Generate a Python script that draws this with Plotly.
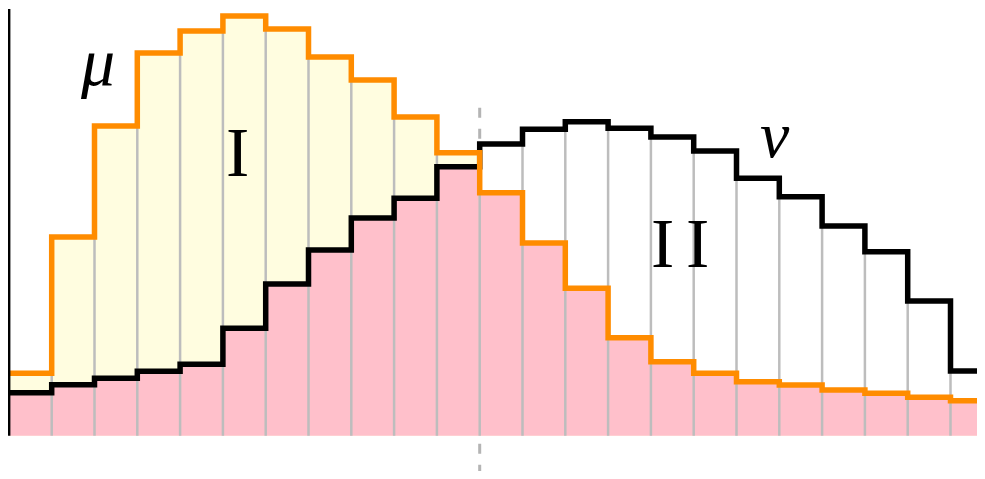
import plotly.graph_objects as go

# bin index (left edges), one bin per unit width
bins = list(range(23))

# heights of the two step densities
mu = [62.4, 198.7, 309.7, 382.7, 404.7, 419.7, 406.7, 378.7, 355.7, 318.7, 283.0,
      243.0, 192.7, 147.4, 98.0, 74.0, 62.4, 54.0, 50.7, 45.7, 42.4, 38.4, 35.0]
nu = [43.0, 51.0, 57.4, 64.4, 71.4, 107.4, 151.7, 185.7, 217.7, 237.4, 269.0,
      291.7, 306.4, 314.0, 307.4, 298.7, 284.7, 257.4, 239.0, 209.7, 184.0, 134.7, 64.7]

split_bin = 11          # where the dashed separator sits
axis_top = 426.7        # height of the vertical axis line

mn = [min(a, b) for a, b in zip(mu, nu)]
mx = [max(a, b) for a, b in zip(mu, nu)]

xs = bins + [bins[-1] + 1]
def stepy(v):
    return v + [v[-1]]

fig = go.Figure()

# dashed separator (behind fills)
fig.add_trace(go.Scatter(x=[split_bin, split_bin], y=[-60, 329.7], mode="lines",
                         line=dict(color="#b4b4b4", width=3, dash="10px,11px"),
                         hoverinfo="skip"))

# yellow region under mu
fig.add_trace(go.Scatter(x=xs, y=stepy(mu), mode="lines", line=dict(width=0, shape="hv"),
                         fill="tozeroy", fillcolor="#fffde0", hoverinfo="skip"))
# pink region under min(mu, nu)
fig.add_trace(go.Scatter(x=xs, y=stepy(mn), mode="lines", line=dict(width=0, shape="hv"),
                         fill="tozeroy", fillcolor="#ffc0cb", hoverinfo="skip"))

# gray bin boundaries
gx, gy = [], []
for k in range(1, len(bins)):
    h = min(mx[k - 1], mx[k])
    gx += [k, k, None]
    gy += [0, h, None]
fig.add_trace(go.Scatter(x=gx, y=gy, mode="lines", line=dict(color="#bdbdbd", width=2.5),
                         hoverinfo="skip"))

# nu and mu step lines
fig.add_trace(go.Scatter(x=xs, y=stepy(nu), mode="lines",
                         line=dict(color="black", width=5.5, shape="hv"), hoverinfo="skip"))
fig.add_trace(go.Scatter(x=xs, y=stepy(mu), mode="lines",
                         line=dict(color="#ff8c00", width=5.5, shape="hv"), hoverinfo="skip"))

# left axis
fig.add_trace(go.Scatter(x=[0, 0], y=[0, axis_top], mode="lines",
                         line=dict(color="black", width=3), hoverinfo="skip"))

serif = "Liberation Serif"
fig.add_annotation(x=2.06, y=374, text="<i>μ</i>", showarrow=False,
                   font=dict(family=serif, size=68, color="black"))
fig.add_annotation(x=5.33, y=283, text="I", showarrow=False,
                   font=dict(family=serif, size=70, color="black"))
fig.add_annotation(x=15.69, y=192, text="I\u2006I", showarrow=False,
                   font=dict(family=serif, size=70, color="black"))
fig.add_annotation(x=17.9, y=301, text="<i>ν</i>", showarrow=False,
                   font=dict(family=serif, size=66, color="black"))

# the page adds an 8px body margin, so the figure covers page pixels 8..977 / 8..471
fig.update_layout(
    width=969, height=463,
    margin=dict(l=0, r=0, t=0, b=0),
    paper_bgcolor="white", plot_bgcolor="white",
    showlegend=False,
    xaxis=dict(range=[(8 - 8.9) / 42.8, (977 - 8.9) / 42.8], visible=False, fixedrange=True),
    yaxis=dict(range=[435.7 - 471, 435.7 - 8], visible=False, fixedrange=True),
)

fig.write_html("out.html")
